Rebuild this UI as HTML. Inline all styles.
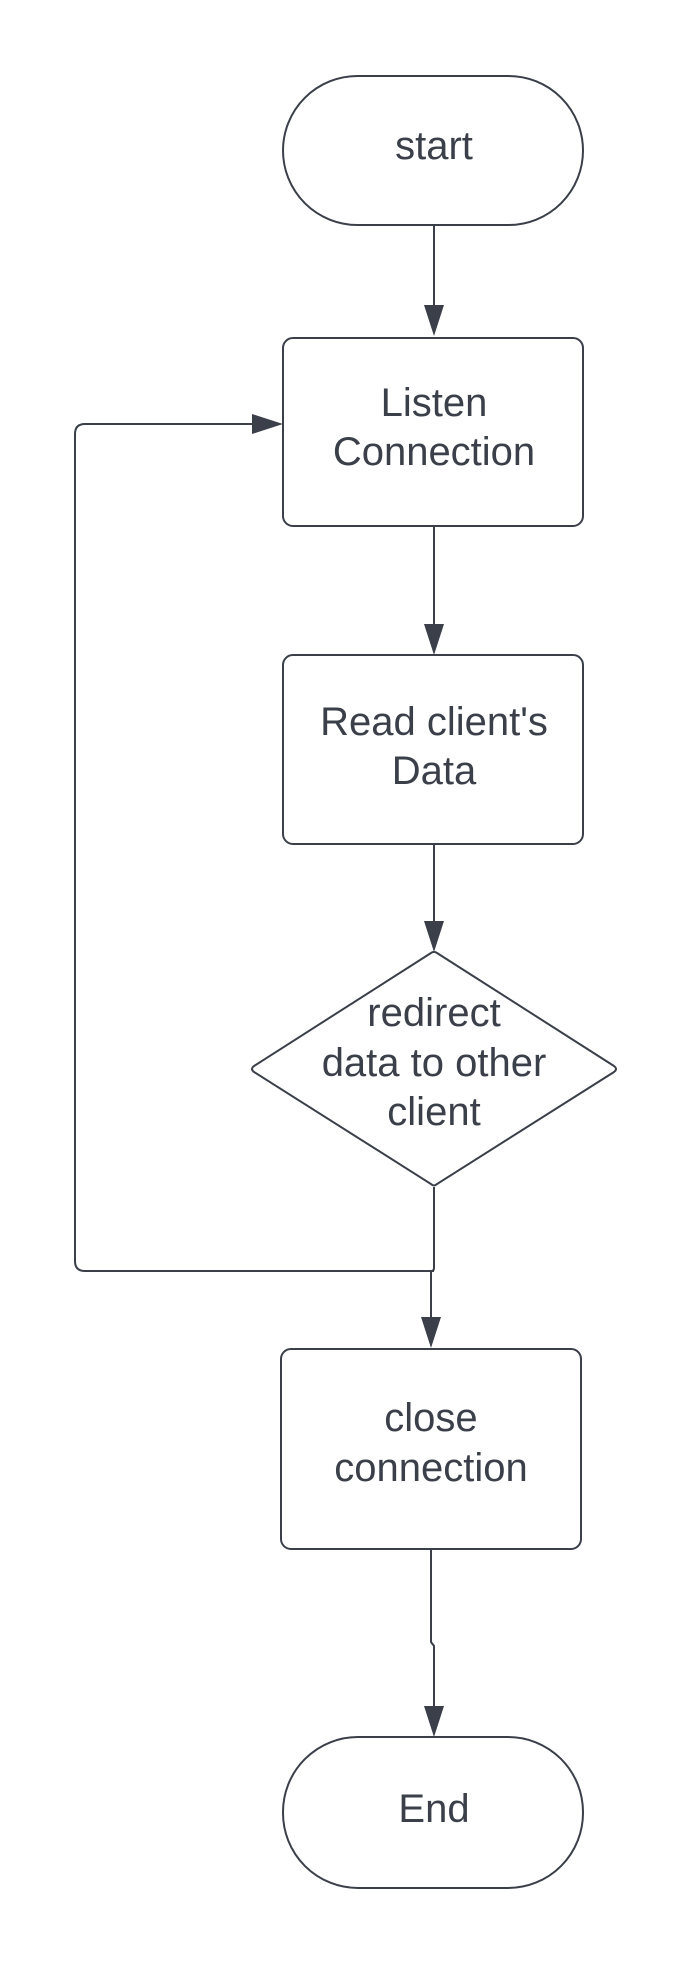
<!DOCTYPE html>
<html><head><meta charset="utf-8"><style>
html,body{margin:0;padding:0;background:#fff;}
svg{display:block;}
text{font-family:"Liberation Sans",Arial,sans-serif;font-size:40px;fill:#3a3f4a;text-anchor:middle;}
</style></head><body>
<svg width="698" height="1963" viewBox="0 0 698 1963" xmlns="http://www.w3.org/2000/svg">
<g fill="none" stroke="#3a3f4a" stroke-width="2">
<rect x="283" y="76" width="300" height="149" rx="74.5"/>
<rect x="283" y="338" width="300" height="188" rx="10"/>
<rect x="283" y="655" width="300" height="189" rx="10"/>
<path d="M434 953 Q434 951 437 953 L614 1066 Q618 1069 614 1072 L437 1184 Q434 1187 431 1184 L254 1072 Q250 1069 254 1066 L431 953 Q434 951 434 953Z"/>
<rect x="281" y="1349" width="300" height="200" rx="10"/>
<rect x="283" y="1737" width="300" height="151" rx="75"/>
<path d="M434 225 V306"/>
<path d="M434 526 V625"/>
<path d="M434 844 V922"/>
<path d="M434 1187 V1268 Q434 1271 431 1271 V1318"/>
<path d="M434 1271 H85 Q75 1271 75 1261 V434 Q75 424 85 424 H253"/>
<path d="M431 1550 V1642 L434 1646 V1707"/>
</g>
<g fill="#3a3f4a">
<path d="M424 305 L444 305 L434 336Z"/>
<path d="M424 624 L444 624 L434 655Z"/>
<path d="M424 921 L444 921 L434 952Z"/>
<path d="M421 1317 L441 1317 L431 1348Z"/>
<path d="M424 1706 L444 1706 L434 1737Z"/>
<path d="M252 414 L252 434 L283 424Z"/>
</g>
<text x="434" y="159">start</text>
<text x="434" y="416">Listen</text>
<text x="434" y="465">Connection</text>
<text x="434" y="735">Read client's</text>
<text x="434" y="784">Data</text>
<text x="434" y="1026">redirect</text>
<text x="434" y="1076">data to other</text>
<text x="434" y="1125">client</text>
<text x="431" y="1431">close</text>
<text x="431" y="1481">connection</text>
<text x="434" y="1822">End</text>
</svg>
</body></html>
